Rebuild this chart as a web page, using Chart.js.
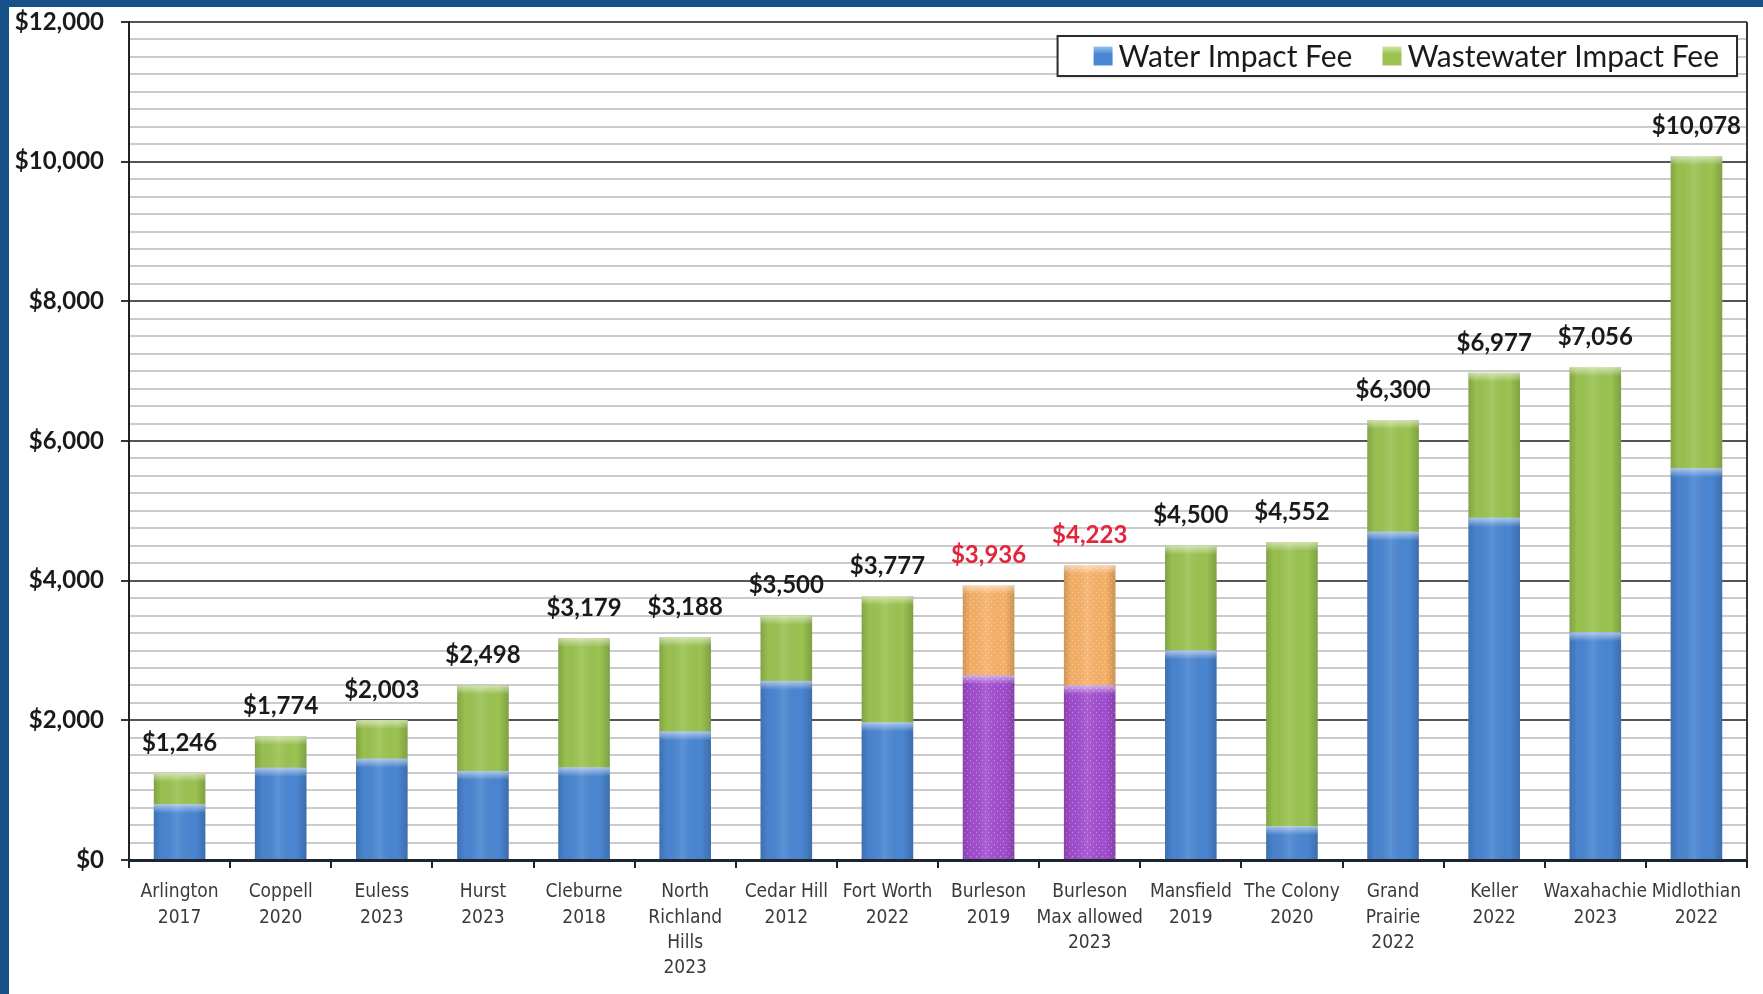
<!DOCTYPE html>
<html>
<head>
<meta charset="utf-8">
<script src="https://cdn.jsdelivr.net/npm/chart.js@4/dist/chart.umd.min.js"></script>
<style>
  html, body { margin: 0; padding: 0; background: #ffffff; overflow: hidden; }
  #wrap { position: relative; width: 1763px; height: 994px; }
  #topband { position: absolute; left: 0; top: 0; width: 1763px; height: 7px; background: #175189; z-index: 2; }
  #leftband { position: absolute; left: 0; top: 0; width: 9px; height: 994px; background: #175189; z-index: 2; }
  canvas { position: absolute; left: 0; top: 0; }
</style>
</head>
<body>
<div id="wrap">
  <div id="topband"></div>
  <div id="leftband"></div>
  <canvas id="c" width="1763" height="994"></canvas>
</div>
<script>
// ---- Data ----
const categories = [
  ["Arlington", "2017"], ["Coppell", "2020"], ["Euless", "2023"], ["Hurst", "2023"],
  ["Cleburne", "2018"], ["North", "Richland", "Hills", "2023"], ["Cedar Hill", "2012"],
  ["Fort Worth", "2022"], ["Burleson", "2019"], ["Burleson", "Max allowed", "2023"],
  ["Mansfield", "2019"], ["The Colony", "2020"], ["Grand", "Prairie", "2022"],
  ["Keller", "2022"], ["Waxahachie", "2023"], ["Midlothian", "2022"]
];
const waterFee      = [800, 1320, 1450, 1275, 1325, 1840, 2565, 1970, 2645, 2500, 3000, 485, 4700, 4900, 3260, 5610];
const wastewaterFee = [446, 454, 553, 1223, 1854, 1348, 935, 1807, 1291, 1723, 1500, 4067, 1600, 2077, 3796, 4468];
const totalLabels   = ["$1,246", "$1,774", "$2,003", "$2,498", "$3,179", "$3,188", "$3,500", "$3,777",
                       "$3,936", "$4,223", "$4,500", "$4,552", "$6,300", "$6,977", "$7,056", "$10,078"];
const highlightIdx  = [8, 9];
const yMin = 0, yMax = 12000, yStep = 250, yMajorStep = 2000;
const seriesNames = ["Water Impact Fee", "Wastewater Impact Fee"];

// ---- Styles ----
const BLUE = '#4a86d2', GREEN = '#9bc351';
function makePattern(base, dot) {
  const p = document.createElement('canvas');
  p.width = 6; p.height = 6;
  const g = p.getContext('2d');
  g.fillStyle = base; g.fillRect(0, 0, 6, 6);
  g.fillStyle = dot;
  g.fillRect(1, 1, 1, 1); g.fillRect(4, 4, 1, 1);
  return g.createPattern(p, 'repeat');
}
const ctx = document.getElementById('c').getContext('2d');
const PURPLE = makePattern('#a24ecf', '#cf94ee');
const ORANGE = makePattern('#f7b168', '#fcd4a4');

const valueLabelPlugin = {
  id: 'valueLabels',
  afterDatasetsDraw(chart) {
    const c = chart.ctx;
    chart.data.datasets.forEach((ds, di) => {
      const meta = chart.getDatasetMeta(di);
      meta.data.forEach((bar, i) => {
        const left = bar.x - bar.width / 2, right = bar.x + bar.width / 2;
        const top = Math.min(bar.y, bar.base), bottom = Math.max(bar.y, bar.base);
        const g = c.createLinearGradient(left, 0, right, 0);
        g.addColorStop(0, 'rgba(0,0,0,0.16)');
        g.addColorStop(0.15, 'rgba(0,0,0,0.02)');
        g.addColorStop(0.45, 'rgba(255,255,255,0.10)');
        g.addColorStop(0.8, 'rgba(0,0,0,0.0)');
        g.addColorStop(1, 'rgba(0,0,0,0.18)');
        c.save();
        c.fillStyle = g;
        c.fillRect(left, top, right - left, bottom - top);
        const cap = Math.min(9, bottom - top);
        const g2 = c.createLinearGradient(0, top, 0, top + cap);
        g2.addColorStop(0, 'rgba(255,255,255,0.55)');
        g2.addColorStop(1, 'rgba(255,255,255,0)');
        c.fillStyle = g2;
        c.fillRect(left, top, right - left, cap);
        c.restore();
      });
    });
    const meta = chart.getDatasetMeta(1);
    c.save();
    c.font = 'bold 24px Lato, "Open Sans", sans-serif';
    c.textAlign = 'center';
    c.textBaseline = 'middle';
    meta.data.forEach((bar, i) => {
      c.fillStyle = highlightIdx.includes(i) ? '#e3263a' : '#1a1a1a';
      c.fillText(totalLabels[i], bar.x, bar.y - 30);
    });
    c.restore();
  }
};

const frameLegendPlugin = {
  id: 'frameLegend',
  afterDraw(chart) {
    const c = chart.ctx, a = chart.chartArea;
    c.save();
    c.strokeStyle = '#333'; c.lineWidth = 2;
    c.beginPath(); c.moveTo(a.right, a.top); c.lineTo(a.right, a.bottom); c.stroke();
    c.font = '30px Lato, "Open Sans", sans-serif';
    const w1 = c.measureText(seriesNames[0]).width, w2 = c.measureText(seriesNames[1]).width;
    const sq = 19, gapSq = 6, gapItem = 30, padL = 36, padR = 18;
    const boxW = padL + sq + gapSq + w1 + gapItem + sq + gapSq + w2 + padR;
    const boxR = a.right - 10, boxL = boxR - boxW, boxT = 36, boxH = 40;
    c.fillStyle = '#ffffff';
    c.shadowColor = 'rgba(0,0,0,0.25)'; c.shadowBlur = 3; c.shadowOffsetY = 1;
    c.fillRect(boxL, boxT, boxW, boxH);
    c.shadowColor = 'transparent';
    c.strokeStyle = '#2b2b2b'; c.lineWidth = 2;
    c.strokeRect(boxL, boxT, boxW, boxH);
    const cy = boxT + boxH / 2;
    let x = boxL + padL;
    const cols = [BLUE, GREEN];
    [w1, w2].forEach((w, k) => {
      const g = c.createLinearGradient(0, cy - sq / 2, 0, cy + sq / 2);
      g.addColorStop(0, k === 0 ? '#9cc3f0' : '#cfe6a0');
      g.addColorStop(0.4, cols[k]);
      g.addColorStop(1, cols[k]);
      c.fillStyle = g;
      c.fillRect(x, cy - sq / 2, sq, sq);
      x += sq + gapSq;
      c.fillStyle = '#1a1a1a';
      c.textBaseline = 'middle'; c.textAlign = 'left';
      c.fillText(seriesNames[k], x, cy + 1);
      x += w + gapItem;
    });
    c.restore();
  }
};

new Chart(ctx, {
  type: 'bar',
  data: {
    labels: categories,
    datasets: [
      {
        label: seriesNames[0],
        data: waterFee,
        backgroundColor: (ctx) => highlightIdx.includes(ctx.dataIndex) ? PURPLE : BLUE,
        barPercentage: 0.51, categoryPercentage: 1.0, borderWidth: 0
      },
      {
        label: seriesNames[1],
        data: wastewaterFee,
        backgroundColor: (ctx) => highlightIdx.includes(ctx.dataIndex) ? ORANGE : GREEN,
        barPercentage: 0.51, categoryPercentage: 1.0, borderWidth: 0
      }
    ]
  },
  options: {
    responsive: false,
    animation: false,
    layout: { padding: { left: 0, top: 22, right: 16, bottom: 0 } },
    plugins: { legend: { display: false }, tooltip: { enabled: false } },
    scales: {
      x: {
        stacked: true,
        afterFit(s) { s.height = 134; },
        grid: { display: true, drawOnChartArea: false, drawTicks: true, offset: true, tickLength: 8, tickColor: '#222', lineWidth: 2 },
        border: { display: true, color: '#1b2533', width: 3 },
        ticks: {
          color: '#3a3a3a', padding: 12, maxRotation: 0, autoSkip: false,
          font: { family: '"Liberation Sans Narrow", "DejaVu Sans Condensed", "Liberation Sans", sans-serif', size: 19, lineHeight: 1.32 }
        }
      },
      y: {
        stacked: true,
        min: yMin, max: yMax,
        afterFit(s) { s.width = 129; s.paddingTop = 0; s.paddingBottom = 0; },
        afterBuildTicks(s) {
          const t = [];
          for (let v = yMin; v <= yMax; v += yStep) t.push({ value: v });
          s.ticks = t;
        },
        grid: {
          drawTicks: true, tickLength: 8,
          color: (c) => (c.tick && c.tick.value % yMajorStep === 0) ? '#555555' : '#cbcbcb',
          lineWidth: 2,
          tickColor: (c) => (c.tick && c.tick.value % yMajorStep === 0) ? '#333' : 'rgba(0,0,0,0)'
        },
        border: { display: true, color: '#222', width: 2 },
        ticks: {
          padding: 17, color: '#1a1a1a', autoSkip: false,
          font: { family: 'Lato, "Open Sans", sans-serif', size: 24, weight: 'bold' },
          callback: (v) => v % yMajorStep === 0 ? '$' + v.toLocaleString('en-US') : ''
        }
      }
    }
  },
  plugins: [valueLabelPlugin, frameLegendPlugin]
});
</script>
</body>
</html>
